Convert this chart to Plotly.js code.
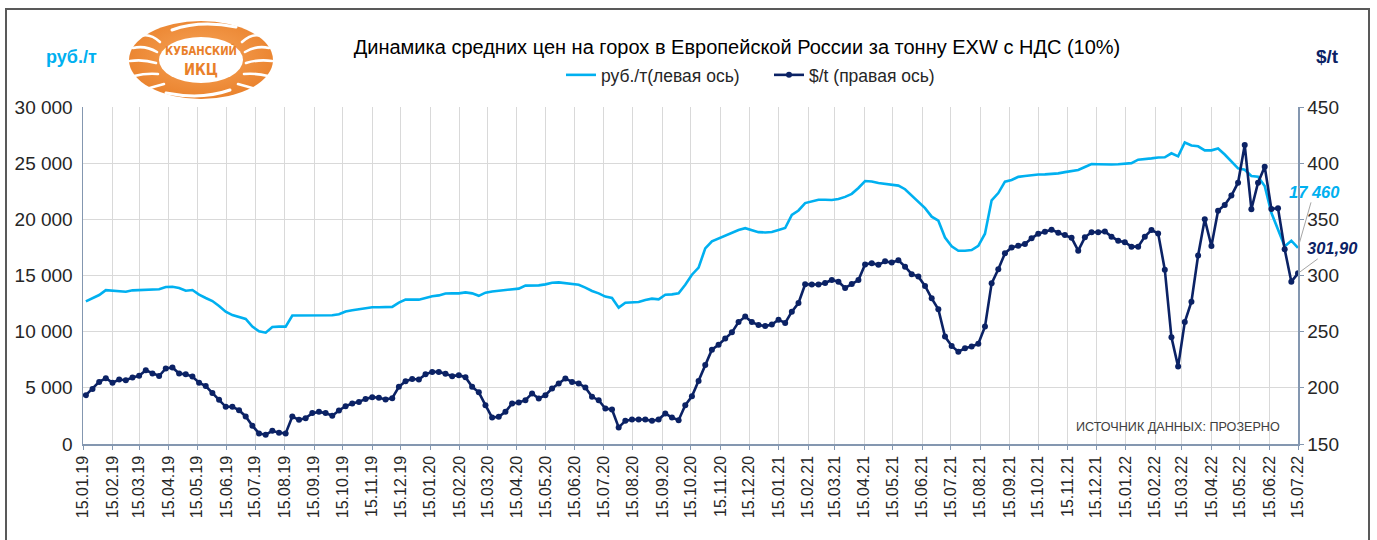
<!DOCTYPE html>
<html><head><meta charset="utf-8">
<script src="https://cdn.plot.ly/plotly-3.0.1.min.js"></script>
<style>
html,body{margin:0;padding:0;background:#fff;overflow:hidden}
#wrap{position:relative;width:1377px;height:540px}
#chart{position:absolute;left:0;top:0;width:1377px;height:540px}
#frame{position:absolute;left:5px;top:8px;width:1361px;height:540px;border:2px solid #595959;border-bottom:none;pointer-events:none}
#logo{position:absolute;left:0;top:0;pointer-events:none}
</style>
</head><body>
<div id="wrap">
<div id="chart"></div>
<svg id="logo" width="300" height="110" xmlns="http://www.w3.org/2000/svg">
  <defs>
    <radialGradient id="og" cx="50%" cy="45%" r="60%">
      <stop offset="0%" stop-color="#F7A55A"/>
      <stop offset="100%" stop-color="#E9802A"/>
    </radialGradient>
  </defs>
  <ellipse cx="201" cy="60" rx="72" ry="39" fill="url(#og)"/>
  <g stroke="#fff" stroke-width="2.6" fill="none" stroke-linecap="round">
    <path d="M160,42 Q150,33 141,36"/>
    <path d="M157,52 Q145,45 133,48"/>
    <path d="M156,63 Q143,59 130,61"/>
    <path d="M158,74 Q146,73 134,76"/>
    <path d="M164,84 Q153,87 143,90"/>
    <path d="M242,42 Q252,33 261,36"/>
    <path d="M245,52 Q257,45 269,48"/>
    <path d="M246,63 Q259,59 272,61"/>
    <path d="M244,74 Q256,73 268,76"/>
    <path d="M238,84 Q249,87 259,90"/>
    <path d="M172,30 Q200,20 236,27" stroke-width="3"/>
    <path d="M230,90 Q202,100 166,93" stroke-width="3"/>
  </g>
  <ellipse cx="201" cy="60" rx="42" ry="23" fill="#fff"/>
  <text x="201" y="55" text-anchor="middle" font-family="DejaVu Sans Condensed, DejaVu Sans" font-weight="bold" font-size="11.5" textLength="72" lengthAdjust="spacingAndGlyphs" fill="#E9802A">КУБАНСКИЙ</text>
  <text x="201" y="75" text-anchor="middle" font-family="DejaVu Sans Condensed, DejaVu Sans" font-weight="bold" font-size="16" textLength="34" lengthAdjust="spacingAndGlyphs" fill="#E9802A">ИКЦ</text>
</svg>
<div id="frame"></div>
</div>
<script>
// Weekly observations (Fridays) starting 18.01.2019
const startDate = '2019-01-18';
const stepDays = 7;

// руб./т (left axis)
const rubPerTon = [
  12700, 13000, 13260, 13700, 13650, 13650, 13560, 13680, 13710, 13710,
  13710, 13770, 13980, 14000, 13890, 13650, 13710, 13300, 13000, 12730,
  12280, 11780, 11480, 11300, 11130, 10450, 10030, 9910, 10420, 10450,
  10450, 11440, 11450, 11450, 11450, 11450, 11450, 11460, 11550, 11800,
  11900, 11990, 12080, 12170, 12170, 12170, 12210, 12580, 12850, 12850,
  12850, 13000, 13150, 13230, 13400, 13410, 13410, 13500, 13410, 13190,
  13470, 13580, 13650, 13710, 13800, 13830, 14100, 14120, 14120, 14210,
  14360, 14390, 14330, 14300, 14180, 13920, 13620, 13410, 13120, 13000,
  12140, 12580, 12610, 12640, 12820, 12940, 12880, 13290, 13320, 13410,
  14180, 15070, 15700, 17420, 18050, 18300, 18500, 18770, 19050, 19210,
  19000, 18860, 18830, 18870, 19050, 19230, 20390, 20790, 21450, 21600,
  21750, 21750, 21720, 21810, 22000, 22270, 22790, 23410, 23370, 23230,
  23160, 23060, 23000, 22680, 22100, 21500, 21000, 20240, 19880, 18380,
  17600, 17200, 17200, 17270, 17640, 18720, 21690, 22340, 23350, 23500,
  23780, 23860, 23930, 23990, 24000, 24040, 24090, 24200, 24270, 24390,
  24660, 24920, 24900, 24870, 24880, 24910, 24970, 25000, 25310, 25400,
  25430, 25510, 25520, 25880, 25610, 26840, 26570, 26500, 26140, 26140,
  26300, 25770, 25140, 24540, 24420, 23860, 23800, 22970, 20580, 19050,
  17600, 18100, 17460
];

// $/t (right axis)
const usdPerTon = [
  193.5, 199, 205.3, 208.5, 204.6, 207.4, 206.8, 209.2, 210.8, 215.7,
  212.8, 210.5, 217.2, 218.1, 212.8, 212, 210, 204.6, 201.6, 195.3,
  189.3, 183.1, 183.1, 180.1, 174.5, 166.3, 159.4, 158.3, 161.7, 160.1,
  159.4, 174.5, 171.5, 173, 177.5, 178.6, 177.5, 175.2, 179.8, 183.7,
  186.1, 187.5, 190, 191.7, 191.2, 189.7, 190.8, 200.9, 205.9, 207.8,
  207.4, 212, 214.2, 214.2, 212.5, 210.4, 211.3, 209.5, 200.9, 196,
  184.6, 173.5, 174.2, 178.6, 186.1, 186.9, 189, 195, 190.5, 193.5,
  199.4, 203.9, 208.3, 205.3, 203.9, 200.3, 192, 189, 181.6, 180.7,
  164.7, 170.6, 171.8, 171.8, 171.8, 170.6, 171.8, 177.2, 173.6, 171.2,
  184.6, 192.4, 206, 220.3, 234, 238.4, 244, 249.4, 258.5, 263.4,
  258.5, 256, 255, 256.4, 260.7, 257.7, 267.8, 275.5, 292.2, 292,
  292, 293.3, 296, 294.5, 288.9, 292.4, 296, 309.8, 311, 309.5,
  312.6, 311.5, 313.5, 307.9, 301.2, 299, 290.7, 279.7, 269.9, 245.6,
  237.3, 232.2, 235.2, 236.7, 239.3, 254.5, 293, 305.5, 319.7, 325,
  326.5, 328, 333.1, 337.2, 339, 340.8, 338.1, 336, 333.5, 322.1,
  334, 338.5, 338.5, 339.2, 334.6, 331, 329.6, 325.7, 325.7, 334.6,
  340.5, 337.5, 305.2, 245, 218.9, 258.6, 276.7, 317.8, 350, 326.3,
  357.7, 362.8, 371.2, 382.6, 416.1, 359, 382.6, 396.9, 359.3, 359.8,
  323.3, 294.5, 301.9
];

const titleText = 'Динамика средних цен на горох в Европейской России за тонну EXW с НДС (10%)';
const rubName = 'руб./т(левая ось)';
const usdName = '$/t (правая ось)';
const sourceText = 'ИСТОЧНИК ДАННЫХ: ПРОЗЕРНО';
const xRange = ['2019-01-15', '2022-07-15'];

const DAY = 86400000;
const lastIdx = usdPerTon.length - 1;
const lastDate = new Date(Date.parse(startDate + 'T00:00:00Z') + lastIdx * stepDays * DAY).toISOString().slice(0, 10);

function fmtRub(v) { return String(Math.round(v)).replace(/\B(?=(\d{3})+(?!\d))/g, ' '); }
function fmtUsd(v) { return v.toFixed(2).replace('.', ','); }

const LIGHT = '#00B0F0';
const DARK = '#0B2265';
const AXIS = '#8497B0';
const TXT = '#262626';
const FONT = 'Liberation Sans, Arial, sans-serif';

const traces = [
  {
    type: 'scatter', mode: 'lines', name: rubName,
    x0: startDate, dx: stepDays * DAY, y: rubPerTon, yaxis: 'y',
    line: { color: LIGHT, width: 2.6 }
  },
  {
    type: 'scatter', mode: 'lines+markers', name: usdName,
    x0: startDate, dx: stepDays * DAY, y: usdPerTon, yaxis: 'y2',
    line: { color: DARK, width: 2.6 },
    marker: { color: DARK, size: 6 }
  }
];

const layout = {
  width: 1377, height: 540,
  margin: { l: 83, r: 79, t: 107, b: 96 },
  paper_bgcolor: '#fff', plot_bgcolor: '#fff',
  separators: ', ',
  font: { family: FONT, size: 16, color: TXT },
  showlegend: true,
  title: {
    text: titleText, font: { family: FONT, size: 20, color: '#000' },
    x: 737 / 1377, xref: 'container', xanchor: 'center',
    y: 1 - 47 / 540, yref: 'container', yanchor: 'middle'
  },
  legend: {
    orientation: 'h', x: (561 - 83) / 1215, xanchor: 'left', y: 1.095, yanchor: 'middle',
    entrywidth: 163, entrywidthmode: 'pixels',
    font: { family: FONT, size: 17.5, color: TXT }, bgcolor: 'rgba(0,0,0,0)',
    traceorder: 'normal'
  },
  xaxis: {
    type: 'date', range: xRange,
    tick0: '2019-01-15', dtick: 'M1', tickformat: '%d.%m.%y', tickangle: -90,
    showgrid: true, gridcolor: '#D9D9D9', gridwidth: 1,
    showline: true, linecolor: AXIS, linewidth: 1.5,
    ticks: 'outside', ticklen: 4, tickcolor: AXIS,
    tickfont: { family: FONT, size: 16, color: TXT },
    zeroline: false
  },
  yaxis: {
    range: [0, 30000], dtick: 5000, tickformat: ',d',
    showgrid: true, gridcolor: '#D9D9D9', gridwidth: 1,
    showline: true, linecolor: AXIS, linewidth: 1.5,
    ticks: '', zeroline: false, ticklabelstandoff: 5,
    tickfont: { family: FONT, size: 19, color: TXT }
  },
  yaxis2: {
    overlaying: 'y', side: 'right', range: [150, 450], dtick: 50,
    showgrid: false, showline: true, linecolor: AXIS, linewidth: 1.5,
    ticks: 'outside', ticklen: 4, tickcolor: AXIS, zeroline: false,
    tickfont: { family: FONT, size: 19, color: TXT }
  },
  annotations: [
    { xref: 'paper', yref: 'paper', x: (71 - 83) / 1215, y: (444 - 57) / 337, text: '<b>руб./т</b>',
      showarrow: false, font: { family: FONT, size: 18, color: LIGHT }, xanchor: 'center', yanchor: 'middle' },
    { xref: 'paper', yref: 'paper', x: (1327 - 83) / 1215, y: (444 - 57) / 337, text: '<b>$/t</b>',
      showarrow: false, font: { family: FONT, size: 19, color: DARK }, xanchor: 'center', yanchor: 'middle' },
    { xref: 'paper', yref: 'paper', x: (1282 - 83) / 1215, y: (444 - 427) / 337, text: sourceText,
      showarrow: false, font: { family: FONT, size: 12.6, color: '#404040' }, xanchor: 'right', yanchor: 'middle' },
    { xref: 'x', yref: 'y', x: lastDate, y: rubPerTon[lastIdx], text: '<b><i>' + fmtRub(rubPerTon[lastIdx]) + '</i></b>',
      showarrow: true, arrowhead: 0, arrowwidth: 1, arrowcolor: '#A6A6A6', ax: 16, ay: -56, standoff: 2,
      font: { family: FONT, size: 16.5, color: LIGHT } },
    { xref: 'x', yref: 'y2', x: lastDate, y: usdPerTon[lastIdx], text: '<b><i>' + fmtUsd(usdPerTon[lastIdx]) + '</i></b>',
      showarrow: true, arrowhead: 0, arrowwidth: 1, arrowcolor: '#A6A6A6', ax: 34, ay: -25, standoff: 2,
      font: { family: FONT, size: 16.5, color: DARK } }
  ]
};

Plotly.newPlot('chart', traces, layout, { displayModeBar: false, staticPlot: true });
</script>
</body></html>
